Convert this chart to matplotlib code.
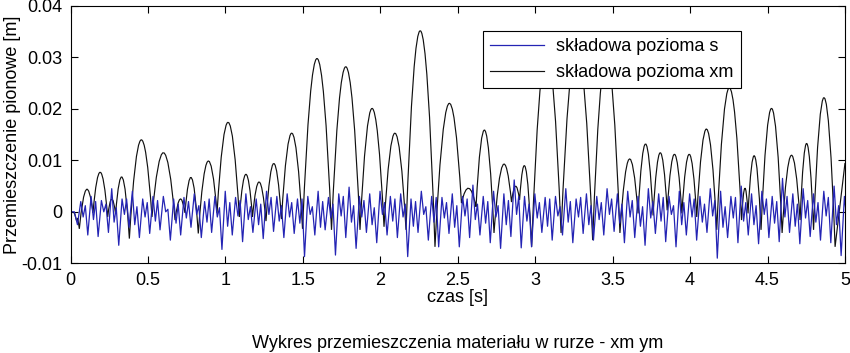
import numpy as np
import matplotlib
matplotlib.use("Agg")
import matplotlib.pyplot as plt
from matplotlib.path import Path
from matplotlib.patches import PathPatch
from matplotlib.lines import Line2D

plt.rcParams['font.family'] = ['Liberation Sans', 'DejaVu Sans']

# ---------------- data ----------------
x_ticks = [0, 0.5, 1, 1.5, 2, 2.5, 3, 3.5, 4, 4.5, 5]
x_tick_labels = ['0', '0.5', '1', '1.5', '2', '2.5', '3', '3.5', '4', '4.5', '5']
y_ticks = [-0.01, 0, 0.01, 0.02, 0.03, 0.04]
y_tick_labels = ['-0.01', '0', '0.01', '0.02', '0.03', '0.04']

# black series "skladowa pozioma xm": lead-in, valleys between arches, arch peaks, end
xm_lead_t = [0.0, 0.025, 0.040, 0.047]
xm_lead_v = [0.0, -0.0002, -0.0018, -0.0012]
xm_valley_t = [0.057, 0.145, 0.240, 0.291, 0.380, 0.526, 0.675, 0.739, 0.825, 0.946,
               1.090, 1.175, 1.262, 1.362, 1.498, 1.685, 1.869, 2.024, 2.166, 2.353,
               2.524, 2.618, 2.734, 2.847, 2.899, 2.977, 3.167, 3.371, 3.547, 3.664,
               3.761, 3.852, 3.947, 4.043, 4.172, 4.332, 4.374, 4.458, 4.594, 4.710,
               4.797, 4.936]
xm_valley_v = [-0.0033, -0.0002, -0.0010, -0.0004, -0.0052, -0.0010, -0.0016, -0.0002, -0.0042, -0.0002,
               -0.0010, -0.0010, -0.0018, -0.0014, -0.0033, -0.0035, -0.0035, -0.0029, -0.0035, -0.0068,
               0.0017, 0.0010, -0.0041, 0.0019, 0.0023, -0.0068, -0.0041, -0.0055, -0.0041, -0.0003,
               -0.0007, 0.0003, -0.0003, -0.0010, -0.0035, -0.0016, -0.0003, -0.0035, -0.0041, -0.0016,
               -0.0035, -0.0068]
xm_peak_v = [0.0044, 0.0077, 0.0025, 0.0068, 0.0140, 0.0115, 0.0025, 0.0067, 0.0099, 0.0174,
             0.0073, 0.0058, 0.0094, 0.0153, 0.0298, 0.0282, 0.0201, 0.0153, 0.0352, 0.0211,
             0.0046, 0.0159, 0.0093, 0.0050, 0.0090, 0.0310, 0.0320, 0.0300, 0.0103, 0.0132,
             0.0115, 0.0112, 0.0112, 0.0161, 0.0241, 0.0046, 0.0109, 0.0201, 0.0110, 0.0133,
             0.0222]
xm_end_t = 5.0
xm_end_v = 0.0095

# blue series "skladowa pozioma s": per oscillation cycle extremes
s_lead_t = [0.0, 0.025]
s_lead_v = [0.0, 0.0]
s_trough = [-0.0025, -0.0045, -0.0048, -0.0040, -0.0065, -0.0030, -0.0050, -0.0042, -0.0035, -0.0055,
            -0.0045, -0.0030, -0.0050, -0.0040, -0.0073, -0.0045, -0.0058, -0.0040, -0.0052, -0.0038,
            -0.0050, -0.0042, -0.0087, -0.0045, -0.0035, -0.0084, -0.0050, -0.0071, -0.0040, -0.0060,
            -0.0045, -0.0050, -0.0087, -0.0040, -0.0055, -0.0068, -0.0042, -0.0068, -0.0050, -0.0045,
            -0.0060, -0.0071, -0.0048, -0.0070, -0.0068, -0.0040, -0.0055, -0.0045, -0.0060, -0.0042,
            -0.0055, -0.0045, -0.0038, -0.0060, -0.0050, -0.0065, -0.0042, -0.0058, -0.0068, -0.0045,
            -0.0055, -0.0040, -0.0090, -0.0050, -0.0060, -0.0045, -0.0062, -0.0050, -0.0058, -0.0040,
            -0.0062, -0.0048, -0.0055, -0.0060, -0.0085]
s_peak1 = [0.0020, 0.0030, 0.0022, 0.0045, 0.0025, 0.0040, 0.0025, 0.0030, 0.0030, 0.0025,
           0.0028, 0.0035, 0.0020, 0.0030, 0.0040, 0.0028, 0.0035, 0.0025, 0.0040, 0.0030,
           0.0035, 0.0025, 0.0030, 0.0040, 0.0028, 0.0035, 0.0048, 0.0030, 0.0035, 0.0040,
           0.0030, 0.0035, 0.0025, 0.0040, 0.0030, 0.0028, 0.0035, 0.0030, 0.0052, 0.0030,
           0.0040, 0.0035, 0.0062, 0.0030, 0.0035, 0.0028, 0.0030, 0.0045, 0.0025, 0.0035,
           0.0030, 0.0045, 0.0035, 0.0040, 0.0030, 0.0045, 0.0035, 0.0030, 0.0040, 0.0035,
           0.0030, 0.0045, 0.0040, 0.0030, 0.0050, 0.0035, 0.0040, 0.0030, 0.0065, 0.0035,
           0.0045, 0.0035, 0.0040, 0.0050, 0.0030]
s_dip = [-0.0010, -0.0015, 0.0000, -0.0020, -0.0005, -0.0025, -0.0010, -0.0018, 0.0000, -0.0022,
         -0.0012, -0.0005, -0.0020, -0.0010, -0.0028, -0.0008, -0.0015, -0.0025, -0.0005, -0.0018,
         -0.0010, -0.0022, -0.0005, -0.0030, -0.0012, -0.0008, -0.0020, -0.0010, -0.0025, -0.0005,
         -0.0018, -0.0010, -0.0028, -0.0005, -0.0020, -0.0012, -0.0030, -0.0008, -0.0015, -0.0022,
         -0.0010, -0.0025, -0.0005, -0.0018, -0.0012, -0.0028, -0.0008, -0.0020, -0.0010, -0.0025,
         -0.0015, -0.0005, -0.0022, -0.0010, -0.0028, -0.0012, -0.0018, -0.0005, -0.0025, -0.0010,
         -0.0020, -0.0008, -0.0030, -0.0012, -0.0018, -0.0025, -0.0005, -0.0022, -0.0010, -0.0028,
         -0.0012, -0.0020, -0.0008, -0.0025, -0.0015]
s_peak2 = [0.0012, 0.0020, 0.0015, 0.0008, 0.0025, 0.0010, 0.0018, 0.0022, 0.0005, 0.0015,
           0.0020, 0.0012, 0.0025, 0.0008, 0.0018, 0.0022, 0.0010, 0.0015, 0.0028, 0.0012,
           0.0018, 0.0025, 0.0010, 0.0020, 0.0015, 0.0030, 0.0012, 0.0022, 0.0008, 0.0018,
           0.0025, 0.0015, 0.0020, 0.0010, 0.0028, 0.0018, 0.0012, 0.0025, 0.0015, 0.0020,
           0.0012, 0.0022, 0.0030, 0.0015, 0.0018, 0.0025, 0.0010, 0.0020, 0.0028, 0.0012,
           0.0018, 0.0025, 0.0015, 0.0022, 0.0010, 0.0020, 0.0028, 0.0012, 0.0018, 0.0025,
           0.0015, 0.0022, 0.0010, 0.0028, 0.0018, 0.0012, 0.0025, 0.0020, 0.0030, 0.0015,
           0.0022, 0.0018, 0.0028, 0.0012, 0.0020]

legend_labels = ['składowa pozioma s', 'składowa pozioma xm']
x_label = 'czas [s]'
y_label = 'Przemieszczenie pionowe [m]'
bottom_title = 'Wykres przemieszczenia materiału w rurze - xm ym'

# ---------------- figure ----------------
W, H = 850, 353
fig = plt.figure(figsize=(W / 100, H / 100), dpi=100)
ax = fig.add_axes([70.5 / W, 1 - 263.3 / H, (845 - 70.5) / W, (263.3 - 6) / H])

# blue series: cycles spread over the time axis, extremes placed within each cycle
n_cyc = len(s_trough)
cyc_t = np.linspace(0.045, 4.975, n_cyc)
period = cyc_t[1] - cyc_t[0]
phase = [0.0, 0.32, 0.55, 0.76]
s_t = list(s_lead_t)
s_v = list(s_lead_v)
for k in range(n_cyc):
    for ph, arr in zip(phase, (s_trough, s_peak1, s_dip, s_peak2)):
        s_t.append(cyc_t[k] + ph * period)
        s_v.append(arr[k])
line_s, = ax.plot(s_t, s_v, color='#2424b4', lw=0.9, label=legend_labels[0])

# black series: parabolic arches between valleys (quadratic Bezier path)
verts = [(xm_lead_t[0], xm_lead_v[0])]
codes = [Path.MOVETO]
for t, v in zip(xm_lead_t[1:], xm_lead_v[1:]):
    verts.append((t, v)); codes.append(Path.LINETO)
verts.append((xm_valley_t[0], xm_valley_v[0])); codes.append(Path.LINETO)
for i, h in enumerate(xm_peak_v):
    t0, v0 = xm_valley_t[i], xm_valley_v[i]
    t2, v2 = xm_valley_t[i + 1], xm_valley_v[i + 1]
    Hh = h - v0
    d = v2 - v0
    u = Hh + np.sqrt(Hh * Hh - Hh * d)
    verts.append(((t0 + t2) / 2, v0 + u)); codes.append(Path.CURVE3)
    verts.append((t2, v2)); codes.append(Path.CURVE3)
verts.append((xm_end_t, xm_end_v)); codes.append(Path.LINETO)
patch = PathPatch(Path(verts, codes), transform=ax.transData, facecolor='none',
                  edgecolor='#111111', lw=0.85)
ax.add_patch(patch)
xm_handle = Line2D([], [], color='#111111', lw=0.85)

ax.set_xlim(0, 5)
ax.set_ylim(-0.01, 0.04)
ax.set_xticks(x_ticks)
ax.set_xticklabels(x_tick_labels)
ax.set_yticks(y_ticks)
ax.set_yticklabels(y_tick_labels)
ax.tick_params(direction='in', top=True, right=True, length=5, width=0.8,
               labelsize=13, pad=6)
for sp in ax.spines.values():
    sp.set_linewidth(0.8)

ax.set_xlabel(x_label, fontsize=13)
ax.xaxis.set_label_coords(0.5, (263.3 - 297) / 257.3)
ax.xaxis.label.set_va('center')
ax.set_ylabel(y_label, fontsize=13)
ax.yaxis.set_label_coords((13 - 70.5) / 774.5, 0.5)
ax.yaxis.label.set_va('center')

fig.text(458 / W, 1 - 343 / H, bottom_title, ha='center', va='center', fontsize=13)

leg = ax.legend([line_s, xm_handle], legend_labels, loc='upper left',
                bbox_to_anchor=((483 - 70.5) / 774.5, (263.3 - 31) / 257.3),
                borderaxespad=0, fancybox=False, framealpha=1, edgecolor='black',
                fontsize=13, handlelength=3.0, handletextpad=0.65, labelspacing=0.5,
                borderpad=0.4)
leg.get_frame().set_linewidth(0.8)

fig.savefig('out.png', dpi=100)
